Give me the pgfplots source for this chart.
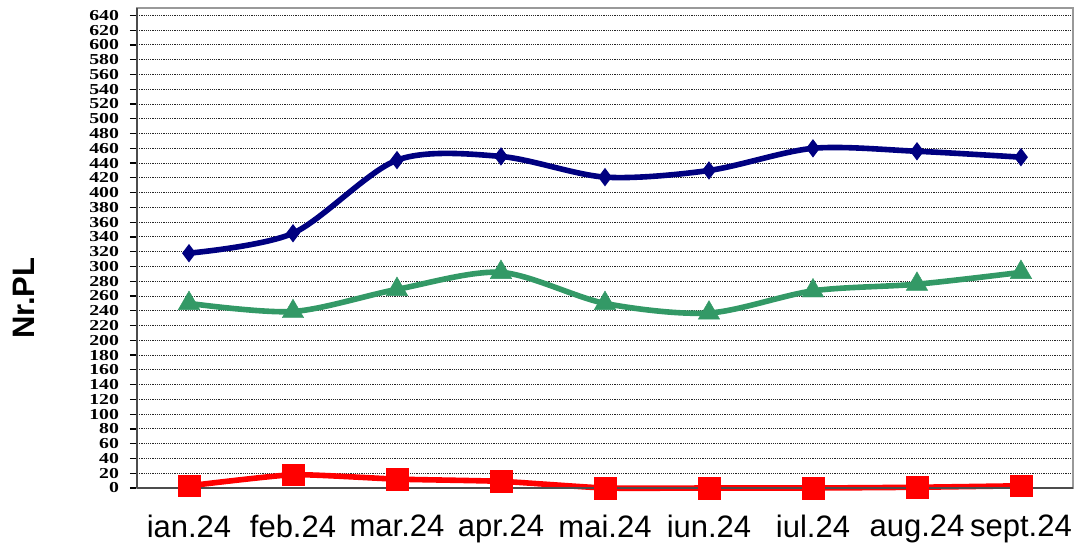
\documentclass[border=0pt]{standalone}
\usepackage{fontspec}
\setmainfont{Liberation Serif}
\newfontfamily\arial{Liberation Sans}
\usepackage{graphicx}
\usepackage{pgfplots}
\pgfplotsset{compat=1.18}
\definecolor{navyline}{HTML}{000080}
\definecolor{greenline}{HTML}{339966}
\definecolor{redline}{HTML}{FF0000}
\begin{document}
\begin{tikzpicture}
\path[use as bounding box] (-68.5pt,-30pt) rectangle (473.5pt,244pt);
\begin{axis}[
  at={(0,0)}, anchor=south west,
  scale only axis,
  width=468pt, height=240pt,
  xmin=-0.5, xmax=8.5,
  ymin=0, ymax=650,
  xtick={0,...,8},
  xticklabels={ian.24,feb.24,mar.24,apr.24,mai.24,iun.24,iul.24,aug.24,sept.24},
  xticklabel style={font=\arial\fontsize{15.5}{15.5}\selectfont, yshift=-6.5pt},
  x tick style={draw=none},
  extra x ticks={-0.5,0.5,...,8.5},
  extra x tick labels={},
  extra x tick style={major tick length=5pt, tick style={draw=gray!60!black, line width=0.8pt}, xtick pos=bottom, tick align=outside, grid=none},
  ytick={0,20,...,640},
  yticklabel={\scalebox{1.3}[1]{\pgfmathprintnumber{\tick}}},
  yticklabel style={font=\bfseries\fontsize{7.6}{7.6}\selectfont, xshift=-2pt},
  /pgf/number format/assume math mode=true,
  ytick pos=left,
  tick align=outside,
  major tick length=3.5pt,
  y tick style={draw=black, line width=0.6pt},
  ymajorgrids,
  major grid style={black!85, line width=0.5pt, dash pattern=on 0.6pt off 0.5pt},
  axis line style={draw=gray!80, line width=0.9pt},
  ylabel={Nr.PL},
  ylabel style={font=\arial\bfseries\fontsize{15.5}{15.5}\selectfont, at={(axis description cs:-0.1205,0.396)}, anchor=center},
  clip=false,
]
\addplot[navyline, line width=2.8pt, smooth, tension=0.5, mark=diamond*, mark size=4.2pt, mark options={solid, fill=navyline, line width=0.5pt}]
  coordinates {(0,318) (1,345) (2,444) (3,449) (4,421) (5,430) (6,460) (7,456) (8,448)};
\addplot[greenline, line width=2.8pt, smooth, tension=0.5, mark=triangle*, mark size=6.2pt, mark options={solid, fill=greenline, line width=0.2pt}]
  coordinates {(0,250) (1,239) (2,269) (3,292) (4,250) (5,237) (6,267) (7,276) (8,292)};
\addplot[redline, line width=2.8pt, smooth, tension=0.3, mark=square*, mark size=5.4pt, mark options={solid, fill=redline, line width=0.2pt}]
  coordinates {(0,3) (1,18) (2,12) (3,9) (4,0) (5,0) (6,0) (7,1) (8,3)};
\draw[gray!60!black, line width=1.2pt] (rel axis cs:0,0) -- (rel axis cs:0,1);
\draw[gray!60!black, line width=1.2pt] (rel axis cs:0,0) -- (rel axis cs:1,0);
\end{axis}
\end{tikzpicture}
\end{document}
